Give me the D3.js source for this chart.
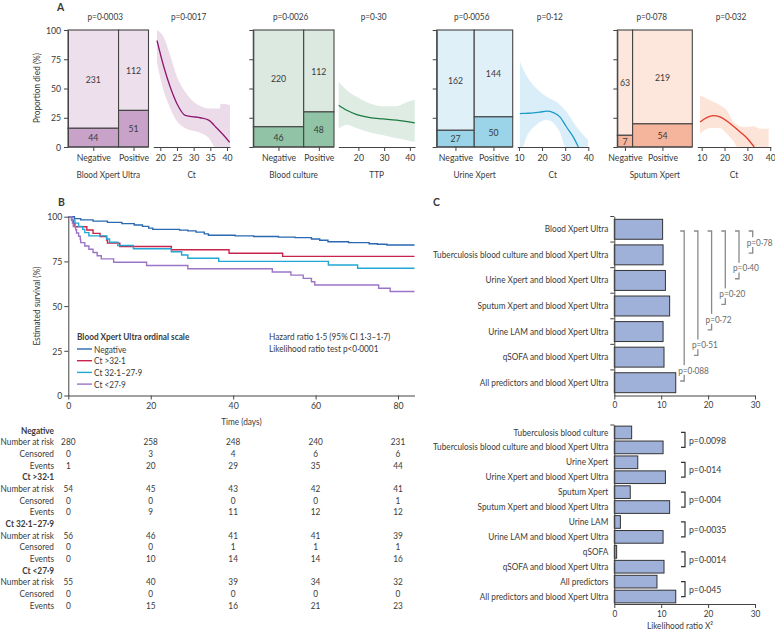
<!DOCTYPE html>
<html><head><meta charset="utf-8">
<script src="https://cdn.jsdelivr.net/npm/d3@7"></script>
<style>
body{margin:0;background:#fff;}
svg text{font-family:"Lato",sans-serif;fill:#3a3a3a;font-size:9.5px;}
.axis path,.axis line{stroke:#444;stroke-width:1;}
</style></head><body>
<svg id="chart" width="775" height="632"></svg>
<script>
// ---------------- DATA ----------------
// Panel A: mosaic counts
const testNames = ["Blood Xpert Ultra","Blood culture","Urine Xpert","Sputum Xpert"];
const curveXLabels = ["Ct","TTP","Ct","Ct"];
const negDied = [44,46,27,7];
const negSurvived = [231,220,162,63];
const posDied = [51,48,50,54];
const posSurvived = [112,112,144,219];
const mosaicP = ["p=0·0003","p=0·0026","p=0·0056","p=0·078"];
const curveP = ["p=0·0017","p=0·30","p=0·12","p=0·032"];
const mosaicTickLabels = ["Negative","Positive"];
const yTicksA = [0,25,50,75,100];
const curveTicks = [[20,25,30,35,40],[20,30,40],[10,20,30,40],[10,20,30,40]];
// Panel A: fitted curves (x, % died) and confidence bands
const line1X = [19,21,23,25,27.5,29.5,32,34.5,37,39,40.8];
const line1Y = [91,69,51,37,27,26,25,23,16,10,4];
const band1X = [19,21,23,25,27.5,29.5,32,34.5,36.5,37.9,38,40.9];
const band1Hi = [100,94,78,60,47,40,35,33,33,33,37,36];
const band1Lo = [72,48,33,22,16,14,12,8,0,0,0,0];
const line2X = [12.3,15.5,19.4,24.5,29.7,34.8,41.9];
const line2Y = [35.7,31.4,27.7,25.1,24,22.9,20.6];
const band2X = [12.3,15.5,19.4,24.5,29.7,34.8,38.5,41.9];
const band2Hi = [55.7,48.6,42.9,37.1,34.9,34.9,38,40.6];
const band2Lo = [15.7,19,16,12.5,10,7.5,6,4.3];
const line3X = [10.4,13,16.2,19,22,24.9,27.7,30.6,33.5,35.7];
const line3Y = [28.6,28.8,29.1,29.8,30.6,29.4,25.7,17.1,8.6,0];
const band3X = [10.4,11.5,13.3,17.6,22,24.9,26.3,27.7,30.2,30.6,35,40];
const band3Hi = [73,68,61,50,43,40,38.6,36,31,30,17,5.7];
const band3Lo = [0,0,8.6,19,23,20.6,17,12.9,0,0,0,0];
const line4X = [9.3,12.2,15.1,18,21,23.9,26.8,29.8,33];
const line4Y = [21.4,25.1,26.9,25.7,22.3,17.7,12.9,7.7,0];
const band4X = [9.3,13.7,18,21,23.9,25.7,26.8,29.8,32.7,35.6,39.3];
const band4Hi = [44.3,40,35.7,31.4,21.4,19,17.7,17.1,17.7,15.7,15.7];
const band4Lo = [11.4,16.3,16.3,11.4,5.1,0,0,0,0,0,0];

// Panel B: Kaplan-Meier steps (day, survival %)
const kmGroups = ["Negative","Ct >32·1","Ct 32·1–27·9","Ct <27·9"];
const kmNegT = [0,1.5,3,6,9.5,13,16,18,19.5,20.5,27,29,31,33,34,40.5,45,51,55,59,61,63,68,73,75,77.3];
const kmNegS = [100,98.9,98.2,97.5,96.8,96.1,95.4,94.6,93.6,92.9,92.5,92.1,91.4,90.4,89.6,89.3,88.9,88.6,88.3,87.5,86.8,86.0,85.5,84.9,84.6,84.2];
const kmHiT = [0,0.8,1.2,1.6,4.5,6,7.7,9.3,9.5,12.5,25,39,52];
const kmHiS = [100,98.1,96.3,94.4,92.6,90.7,88.9,87.0,85.2,83.3,81.5,79.6,77.8];
const kmMidT = [0,0.8,1.6,2.5,3.5,4,5,9.3,10,12,15.8,25,27.5,29,36.5,63.1,70.2];
const kmMidS = [100,98.2,96.4,94.6,92.9,91.1,89.3,87.5,85.7,83.9,82.1,80.4,78.6,76.8,75.0,73.0,71.2];
const kmLoT = [0,0.8,1,1.2,1.8,2,2.5,2.9,3,4,5,6,7,8,11,19,29,49.5,54,57,59,59.8,75.3,78.1];
const kmLoS = [100,98.2,96.4,94.5,92.7,90.9,89.1,87.3,85.5,83.6,81.8,80.0,78.2,76.4,74.5,72.7,70.9,69.1,67.3,65.5,63.6,61.8,60.0,58.2];
const kmXTicks = [0,20,40,60,80];
const kmYTicks = [0,25,50,75,100];
// Risk table
const riskTimes = [0,20,40,60,80];
const riskRowNames = ["Number at risk","Censored","Events"];
const riskNeg = [[280,258,248,240,231],[0,3,4,6,6],[1,20,29,35,44]];
const riskHi = [[54,45,43,42,41],[0,0,0,0,1],[0,9,11,12,12]];
const riskMid = [[56,46,41,41,39],[0,0,1,1,1],[0,10,14,14,16]];
const riskLo = [[55,40,39,34,32],[0,0,0,0,0],[0,15,16,21,23]];

// Panel C: likelihood ratio chi-square
const cTopLabels = ["Blood Xpert Ultra","Tuberculosis blood culture and blood Xpert Ultra","Urine Xpert and blood Xpert Ultra","Sputum Xpert and blood Xpert Ultra","Urine LAM and blood Xpert Ultra","qSOFA and blood Xpert Ultra","All predictors and blood Xpert Ultra"];
const cTopValues = [10.3,10.4,10.9,11.8,10.4,10.6,13.1];
const cTopP = ["p=0·78","p=0·40","p=0·20","p=0·72","p=0·51","p=0·088"];
const cBotLabels = ["Tuberculosis blood culture","Tuberculosis blood culture and blood Xpert Ultra","Urine Xpert","Urine Xpert and blood Xpert Ultra","Sputum Xpert","Sputum Xpert and blood Xpert Ultra","Urine LAM","Urine LAM and blood Xpert Ultra","qSOFA","qSOFA and blood Xpert Ultra","All predictors","All predictors and blood Xpert Ultra"];
const cBotValues = [3.7,10.4,5.0,10.9,3.4,11.8,1.3,10.4,0.5,10.6,9.1,13.1];
const cBotP = ["p=0.0098","p=0·014","p=0·004","p=0·0035","p=0·0014","p=0·045"];
const cXTicks = [0,10,20,30];

// ---------------- STYLE / LAYOUT ----------------
const lightCol = ["#eddfec","#dce9e1","#dff0f8","#fde6dc"];
const darkCol = ["#c8a2c8","#91c3a6","#9bd3e8","#f5b49c"];
const lineCol = ["#8e1670","#1d7a40","#1a9cc8","#e63a2c"];
const bandCol = ["#ecdcea","#dfece4","#d9eef8","#fde4d8"];
const mosaicRanges = [[68,148.5],[253.3,334],[436.7,512.7],[617.3,692.3]];
const curveRanges = [[153.3,230],[338.3,415],[517.3,588.3],[697.3,770.7]];
const curveDomains = [[17.9,40.9],[12.2,42],[9.3,40],[8.1,40.2]];
const kmColors = ["#2a68b2","#c8234a","#22a7d4","#9c74c6"];
const barFill = "#9fb0d9";
const SX = 0.87; // horizontal text compression to mimic the narrow journal font

const svg = d3.select("#chart");
const defs = svg.append("defs");

// ---------------- PANEL A ----------------
const yA = d3.scaleLinear().domain([0,100]).range([147,30]);
svg.append("text").attr("x",57).attr("y",11).style("font-size","12px").style("font-weight","bold").text("A");
svg.append("text").attr("transform","translate(40,88) rotate(-90)").attr("text-anchor","middle").text("Proportion died (%)");

const lineXs=[line1X,line2X,line3X,line4X], lineYs=[line1Y,line2Y,line3Y,line4Y];
const bandXs=[band1X,band2X,band3X,band4X], bandHis=[band1Hi,band2Hi,band3Hi,band4Hi], bandLos=[band1Lo,band2Lo,band3Lo,band4Lo];

testNames.forEach((name,i)=>{
  const g = svg.append("g");
  const nNeg = negDied[i]+negSurvived[i];
  const nPos = posDied[i]+posSurvived[i];
  const xM = d3.scaleLinear().domain([0,nNeg+nPos]).range(mosaicRanges[i]);
  const cols = [
    {x0:0,x1:nNeg,died:negDied[i],surv:negSurvived[i]},
    {x0:nNeg,x1:nNeg+nPos,died:posDied[i],surv:posSurvived[i]}
  ];
  cols.forEach(c=>{
    const pct = c.died/(c.died+c.surv)*100;
    g.append("rect").attr("x",xM(c.x0)).attr("width",xM(c.x1)-xM(c.x0))
      .attr("y",yA(100)).attr("height",yA(pct)-yA(100))
      .attr("fill",lightCol[i]).attr("stroke","#444").attr("stroke-width",1.1);
    g.append("rect").attr("x",xM(c.x0)).attr("width",xM(c.x1)-xM(c.x0))
      .attr("y",yA(pct)).attr("height",yA(0)-yA(pct))
      .attr("fill",darkCol[i]).attr("stroke","#444").attr("stroke-width",1.1);
    const cx = (xM(c.x0)+xM(c.x1))/2;
    g.append("text").attr("x",cx).attr("y",(yA(100)+yA(pct))/2).attr("text-anchor","middle").attr("dominant-baseline","central").style("font-size","10px").text(c.surv);
    g.append("text").attr("x",cx).attr("y",(yA(pct)+yA(0))/2).attr("text-anchor","middle").attr("dominant-baseline","central").style("font-size","10px").text(c.died);
  });
  const ya = d3.axisLeft(yA).tickValues(yTicksA).tickSize(4).tickSizeOuter(0);
  if(i>0) ya.tickFormat("");
  g.append("g").attr("class","axis").attr("transform",`translate(${mosaicRanges[i][0]},0)`).call(ya);
  const xCat = d3.scaleOrdinal().domain(mosaicTickLabels).range([(xM(0)+xM(nNeg))/2,(xM(nNeg)+xM(nNeg+nPos))/2]);
  const xa = g.append("g").attr("class","axis").attr("transform",`translate(0,${yA(0)})`).call(d3.axisBottom(xCat).tickSize(4).tickPadding(3));
  xa.select(".domain").remove();
  g.append("line").attr("x1",mosaicRanges[i][0]).attr("x2",mosaicRanges[i][1]).attr("y1",yA(0)).attr("y2",yA(0)).attr("stroke","#444");
  const xC = d3.scaleLinear().domain(curveDomains[i]).range(curveRanges[i]);
  const cid = "clipA"+i;
  defs.append("clipPath").attr("id",cid).append("rect").attr("x",curveRanges[i][0]).attr("width",curveRanges[i][1]-curveRanges[i][0]).attr("y",yA(100)).attr("height",yA(0)-yA(100));
  const bandData = bandXs[i].map((x,j)=>({x,lo:bandLos[i][j],hi:bandHis[i][j]}));
  const lineData = lineXs[i].map((x,j)=>({x,y:lineYs[i][j]}));
  const cg = g.append("g").attr("clip-path",`url(#${cid})`);
  cg.append("path").datum(bandData).attr("fill",bandCol[i])
    .attr("d",d3.area().x(d=>xC(d.x)).y0(d=>yA(d.lo)).y1(d=>yA(d.hi)).curve(d3.curveMonotoneX));
  cg.append("path").datum(lineData).attr("fill","none").attr("stroke",lineCol[i]).attr("stroke-width",1.3)
    .attr("d",d3.line().x(d=>xC(d.x)).y(d=>yA(d.y)).curve(d3.curveMonotoneX));
  g.append("g").attr("class","axis").attr("transform",`translate(0,${yA(0)})`)
    .call(d3.axisBottom(xC).tickValues(curveTicks[i]).tickSize(4).tickSizeOuter(0).tickPadding(3));
  const mc = (mosaicRanges[i][0]+mosaicRanges[i][1])/2;
  const cc = (curveRanges[i][0]+curveRanges[i][1])/2;
  g.append("text").attr("x",mc-3).attr("y",20).attr("text-anchor","middle").text(mosaicP[i]);
  g.append("text").attr("x",cc-3).attr("y",20).attr("text-anchor","middle").text(curveP[i]);
  g.append("text").attr("x",mc).attr("y",178).attr("text-anchor","middle").text(name);
  g.append("text").attr("x",cc).attr("y",178).attr("text-anchor","middle").text(curveXLabels[i]);
});
svg.selectAll(".axis text").style("font-size","10px").attr("fill","#3a3a3a");

// ---------------- PANEL B ----------------
const xK = d3.scaleLinear().domain([0,84]).range([68.3,414.5]);
const yK = d3.scaleLinear().domain([0,100]).range([395.5,216.7]);
svg.append("text").attr("x",58).attr("y",206).style("font-size","12px").style("font-weight","bold").text("B");
const kmData = [[kmNegT,kmNegS],[kmHiT,kmHiS],[kmMidT,kmMidS],[kmLoT,kmLoS]];
const kmLine = d3.line().x(d=>xK(d[0])).y(d=>yK(d[1])).curve(d3.curveStepAfter);
kmData.forEach(([T,S],k)=>{
  const pts = T.map((t,j)=>[t,S[j]]);
  pts.push([84,S[S.length-1]]);
  svg.append("path").datum(pts).attr("fill","none").attr("stroke",kmColors[k]).attr("stroke-width",1.4).attr("d",kmLine);
});
svg.append("g").attr("class","axis kb").attr("transform",`translate(0,${yK(0)})`)
  .call(d3.axisBottom(xK).tickValues(kmXTicks).tickSize(4).tickSizeOuter(0).tickPadding(2));
svg.append("g").attr("class","axis kb").attr("transform",`translate(${xK(0)},0)`)
  .call(d3.axisLeft(yK).tickValues(kmYTicks).tickSize(4).tickSizeOuter(0).tickPadding(2));
svg.selectAll(".kb text").style("font-size","10px");
svg.append("text").attr("x",(xK(0)+xK(84))/2).attr("y",425).attr("text-anchor","middle").text("Time (days)");
svg.append("text").attr("transform",`translate(40,${(yK(0)+yK(100))/2}) rotate(-90)`).attr("text-anchor","middle").text("Estimated survival (%)");
svg.append("text").attr("x",77).attr("y",340).style("font-weight","bold").text("Blood Xpert Ultra ordinal scale");
kmGroups.forEach((gname,k)=>{
  const y = 349+k*11.7;
  svg.append("line").attr("x1",77).attr("x2",92).attr("y1",y).attr("y2",y).attr("stroke",kmColors[k]).attr("stroke-width",1.4);
  svg.append("text").attr("x",94).attr("y",y).attr("dominant-baseline","central").text(gname);
});
svg.append("text").attr("x",269).attr("y",340).text("Hazard ratio 1·5 (95% CI 1·3–1·7)");
svg.append("text").attr("x",269).attr("y",352).text("Likelihood ratio test p<0·0001");
const riskData = [riskNeg,riskHi,riskMid,riskLo];
let ty = 430;
kmGroups.forEach((gname,k)=>{
  svg.append("text").attr("x",54).attr("y",ty).attr("text-anchor","end").attr("dominant-baseline","central").style("font-weight","bold").text(gname);
  ty += 11.67;
  riskRowNames.forEach((rn,r)=>{
    svg.append("text").attr("x",54).attr("y",ty).attr("text-anchor","end").attr("dominant-baseline","central").text(rn);
    riskTimes.forEach((t,c)=>{
      svg.append("text").attr("x",xK(t)).attr("y",ty).attr("text-anchor","middle").attr("dominant-baseline","central").text(riskData[k][r][c]);
    });
    ty += 11.67;
  });
});

// ---------------- PANEL C ----------------
svg.append("text").attr("x",433).attr("y",206).style("font-size","12px").style("font-weight","bold").text("C");
const xL = d3.scaleLinear().domain([0,30]).range([614.3,755]);
const yTop = d3.scaleBand().domain(cTopLabels).range([216.5,395.5]).paddingInner(0.22).paddingOuter(0.11);
svg.append("g").selectAll("rect").data(cTopLabels).join("rect")
  .attr("x",xL(0)).attr("y",d=>yTop(d)).attr("height",yTop.bandwidth())
  .attr("width",(d,i)=>xL(cTopValues[i])-xL(0)).attr("fill",barFill).attr("stroke","#333").attr("stroke-width",1);
svg.append("g").attr("class","axis ct").attr("transform",`translate(${xL(0)},0)`)
  .call(d3.axisLeft(yTop).tickSize(0).tickPadding(6));
cTopLabels.forEach(d=>{
  const yb = yTop(d) - yTop.step()*yTop.paddingInner()/2;
  svg.append("line").attr("x1",xL(0)-4).attr("x2",xL(0)).attr("y1",yb).attr("y2",yb).attr("stroke","#444");
});
svg.append("g").attr("class","axis ct").attr("transform",`translate(0,395.5)`)
  .call(d3.axisBottom(xL).tickValues(cXTicks).tickSize(4).tickSizeOuter(0).tickPadding(2));
const c0 = yTop(cTopLabels[0])+yTop.bandwidth()/2;
cTopP.forEach((p,j)=>{
  const k = j+1;
  const bx = 752.7 - j*13.7;
  const ck = yTop(cTopLabels[k])+yTop.bandwidth()/2;
  const ckm = yTop(cTopLabels[k-1])+yTop.bandwidth()/2;
  svg.append("path").attr("d",`M${bx-4},${c0+1.7}H${bx}V${ck-1.7}H${bx-4}`).attr("fill","none").attr("stroke","#8a8a8a").attr("stroke-width",1.3);
  svg.append("text").attr("class","bgtext").attr("x",bx-6).attr("y",(ck+ckm)/2).attr("dominant-baseline","central").style("fill","#6a6a6a").text(p);
});
const yBot = d3.scaleBand().domain(cBotLabels).range([425,604]).paddingInner(0.15).paddingOuter(0.075);
svg.append("g").selectAll("rect").data(cBotLabels).join("rect")
  .attr("x",xL(0)).attr("y",d=>yBot(d)).attr("height",yBot.bandwidth())
  .attr("width",(d,i)=>xL(cBotValues[i])-xL(0)).attr("fill",barFill).attr("stroke","#333").attr("stroke-width",1);
svg.append("g").attr("class","axis ct").attr("transform",`translate(${xL(0)},0)`)
  .call(d3.axisLeft(yBot).tickSize(0).tickPadding(6));
svg.append("line").attr("x1",xL(0)-4).attr("x2",xL(0)).attr("y1",425).attr("y2",425).attr("stroke","#444");
svg.append("g").attr("class","axis ct").attr("transform",`translate(0,604)`)
  .call(d3.axisBottom(xL).tickValues(cXTicks).tickSize(4).tickSizeOuter(0).tickPadding(2));
cBotP.forEach((p,j)=>{
  const a = yBot(cBotLabels[2*j])+yBot.bandwidth()/2;
  const b = yBot(cBotLabels[2*j+1])+yBot.bandwidth()/2;
  const bx = 685;
  svg.append("path").attr("d",`M${bx-4},${a}H${bx}V${b}H${bx-4}`).attr("fill","none").attr("stroke","#333").attr("stroke-width",1.2);
  svg.append("text").attr("x",bx+4).attr("y",(a+b)/2).attr("dominant-baseline","central").style("font-size","10px").text(p);
});
svg.append("text").attr("x",680).attr("y",629).attr("text-anchor","middle").text("Likelihood ratio X²");
svg.selectAll(".ct .tick text").style("font-size","9.5px").attr("fill","#3a3a3a");

// ---------------- narrow the text horizontally ----------------
svg.selectAll("text").each(function(){
  const t = d3.select(this);
  const tr = t.attr("transform");
  if(tr){ t.attr("transform", tr+` scale(${SX},1)`); }
  else {
    const x = +(t.attr("x")||0);
    t.attr("transform",`translate(${x},0) scale(${SX},1) translate(${-x},0)`);
  }
});
// white backgrounds behind bracket p-values
svg.selectAll("text.bgtext").each(function(){
  const b = this.getBBox();
  svg.insert("rect",()=>this).attr("x",b.x-0.5).attr("y",b.y+1).attr("width",b.width+1).attr("height",b.height-2)
    .attr("fill","#fff").attr("transform",d3.select(this).attr("transform"));
});
</script>
</body></html>
